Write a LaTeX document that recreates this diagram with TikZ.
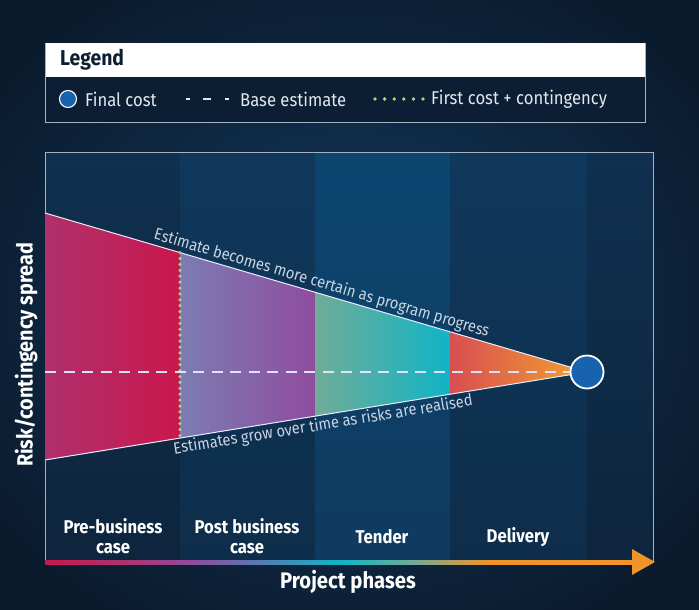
\documentclass[tikz,border=0pt]{standalone}
\usepackage{fontspec}
\setmainfont{Fira Sans}[FakeStretch=0.9]
\usetikzlibrary{arrows.meta}
\definecolor{bgdark}{HTML}{0B1B2E}
\definecolor{bgmid}{HTML}{123A5E}
\definecolor{legnavy}{HTML}{0C1E33}
\definecolor{frameline}{HTML}{A5B3C1}
\definecolor{txtlight}{HTML}{E2E8EF}
\definecolor{conetxt}{HTML}{C9D5E2}
\definecolor{finalblue}{HTML}{1763AE}
\definecolor{dotgreen}{HTML}{B6CD7E}
\definecolor{sA}{HTML}{B0306C}
\definecolor{sB}{HTML}{C8184C}
\definecolor{sC}{HTML}{7C7CB2}
\definecolor{sD}{HTML}{8F4C9F}
\definecolor{sE}{HTML}{70AC98}
\definecolor{sF}{HTML}{10B4C6}
\definecolor{sG}{HTML}{D84E52}
\definecolor{sH}{HTML}{F2A22E}
\definecolor{arrorange}{HTML}{F0942A}
\definecolor{colA}{HTML}{10304F}
\definecolor{colAb}{HTML}{0D253D}
\definecolor{colB}{HTML}{0F385C}
\definecolor{colBb}{HTML}{0E2D4A}
\definecolor{colC}{HTML}{0C4670}
\definecolor{colCb}{HTML}{0F3A60}
\definecolor{legtitle}{HTML}{0D1F33}
\pgfdeclarehorizontalshading{axisgrad}{100bp}{color(0bp)=(sB); color(25bp)=(sB); color(31bp)=(sA); color(37.5bp)=(sD); color(50bp)=(sF); color(56bp)=(sE); color(62.5bp)=(arrorange); color(100bp)=(arrorange)}
\tikzset{
  phaselabel/.style={text=white, font=\fontsize{18.5}{19.5}\selectfont\bfseries, align=center},
  legtext/.style={text=txtlight, font=\fontsize{18.5}{20}\selectfont, anchor=west, inner sep=0pt},
  conelabel/.style={text=conetxt, font=\fontsize{16.3}{18}\selectfont, inner sep=2pt},
  edgeline/.style={draw=white!92!blue, line width=1pt},
}
\begin{document}
\begin{tikzpicture}[x=1pt,y=-1pt]
\useasboundingbox (0,0) rectangle (699,610);
% background
\fill[bgdark] (0,0) rectangle (699,610);
\shade[inner color=bgmid, outer color=bgdark] (-80,-60) rectangle (780,670);
% columns
\shade[top color=colA, bottom color=colAb] (45,152) rectangle (180,562);
\shade[top color=colB, bottom color=colBb] (180,152) rectangle (315,562);
\shade[top color=colC, bottom color=colCb] (315,152) rectangle (450,562);
\shade[top color=colB, bottom color=colBb] (450,152) rectangle (587,562);
\shade[top color=colA, bottom color=colAb] (587,152) rectangle (653,562);
% frame
\draw[frameline, line width=0.9pt] (45,562) -- (45,152) -- (653,152) -- (653,562);

% legend
\node[draw=frameline, line width=0.9pt, fill=legnavy, minimum width=600pt, minimum height=79pt, inner sep=0pt, anchor=north west] (legbox) at (45,43) {};
\fill[white] (45.5,43.5) rectangle (644.5,77);
\node[anchor=west, text=legtitle, font=\fontsize{21.5}{23}\selectfont\bfseries, inner sep=0pt] (legtitle) at (60,60) {Legend};
\node[circle, fill=finalblue, draw=white, line width=1.1pt, minimum size=17pt, inner sep=0pt] (legcirc) at (68,99) {};
\node[legtext] (legfinal) at (85,99) {Final cost};
\coordinate (ld1) at (186,99); \coordinate (ld2) at (190,99);
\coordinate (ld3) at (203,99); \coordinate (ld4) at (211,99);
\coordinate (ld5) at (225,99); \coordinate (ld6) at (229,99);
\draw[txtlight, line width=1.8pt] (ld1) -- (ld2) (ld3) -- (ld4) (ld5) -- (ld6);
\node[legtext] (legbase) at (240,99) {Base estimate};
\coordinate (lp1) at (375,99); \coordinate (lp2) at (423,99);
\draw[dotgreen, line width=3.8pt, line cap=round, dash pattern=on 0pt off 9.6pt] (lp1) -- (lp2);
\node[legtext] (legfirst) at (431,99) {First cost + contingency};

% cone coordinates
\coordinate (TL) at (45,213);
\coordinate (BL) at (45,460);
\coordinate (T1) at (180,252.6);
\coordinate (B1) at (180,438.1);
\coordinate (T2) at (315,292.2);
\coordinate (B2) at (315,416.2);
\coordinate (T3) at (450,331.8);
\coordinate (B3) at (450,394.2);
\coordinate (apex) at (587,372);
\coordinate (ML) at (45,372);

\shade[left color=sA, right color=sB] (TL) -- (T1) -- (B1) -- (BL) -- cycle;
\shade[left color=sC, right color=sD] (T1) -- (T2) -- (B2) -- (B1) -- cycle;
\shade[left color=sE, right color=sF] (T2) -- (T3) -- (B3) -- (B2) -- cycle;
\shade[left color=sG, right color=sH] (T3) -- (apex) -- (B3) -- cycle;

\draw[edgeline] (TL) -- (apex);
\draw[edgeline] (BL) -- (apex);

% dotted line
\draw[dotgreen, line width=3.5pt, line cap=round, dash pattern=on 0pt off 5.9pt] (T1) -- (B1);

% dashed base estimate
\draw[white!88!blue, line width=1.9pt, dash pattern=on 11pt off 7.5pt] (ML) -- (apex);

% final cost circle
\node[circle, fill=finalblue, draw=white, line width=1.8pt, minimum size=33pt, inner sep=0pt] (final) at (apex) {};

% cone labels
\path (TL) -- (apex) coordinate[pos=0.505] (tmid);
\path (BL) -- (apex) coordinate[pos=0.51] (bmid);
\node[conelabel, rotate=-16.35, anchor=south] (toplbl) at (tmid) {Estimate becomes more certain as program progress};
\node[conelabel, rotate=9.22, anchor=north] (botlbl) at (bmid) {Estimates grow over time as risks are realised};

% y axis label
\node[rotate=90, text=white, font=\fontsize{22}{24}\selectfont\bfseries] (ylabel) at (26,355) {Risk/contingency spread};

% phase labels
\node[phaselabel] (ph1) at (113,536) {Pre-business\\case};
\node[phaselabel] (ph2) at (247,536) {Post business\\case};
\node[phaselabel] (ph3) at (382,537) {Tender};
\node[phaselabel] (ph4) at (518,537) {Delivery};

% axis
\coordinate (ax0) at (45,562);
\coordinate (axtip) at (655,562);
\shade[shading=axisgrad] (45,560) rectangle (636,564);
\fill[arrorange] (632,549) -- (axtip) -- (632,575) -- cycle;

\node[text=white, font=\fontsize{22.5}{24}\selectfont\bfseries] (xlabel) at (348,582) {Project phases};
\end{tikzpicture}
\end{document}
